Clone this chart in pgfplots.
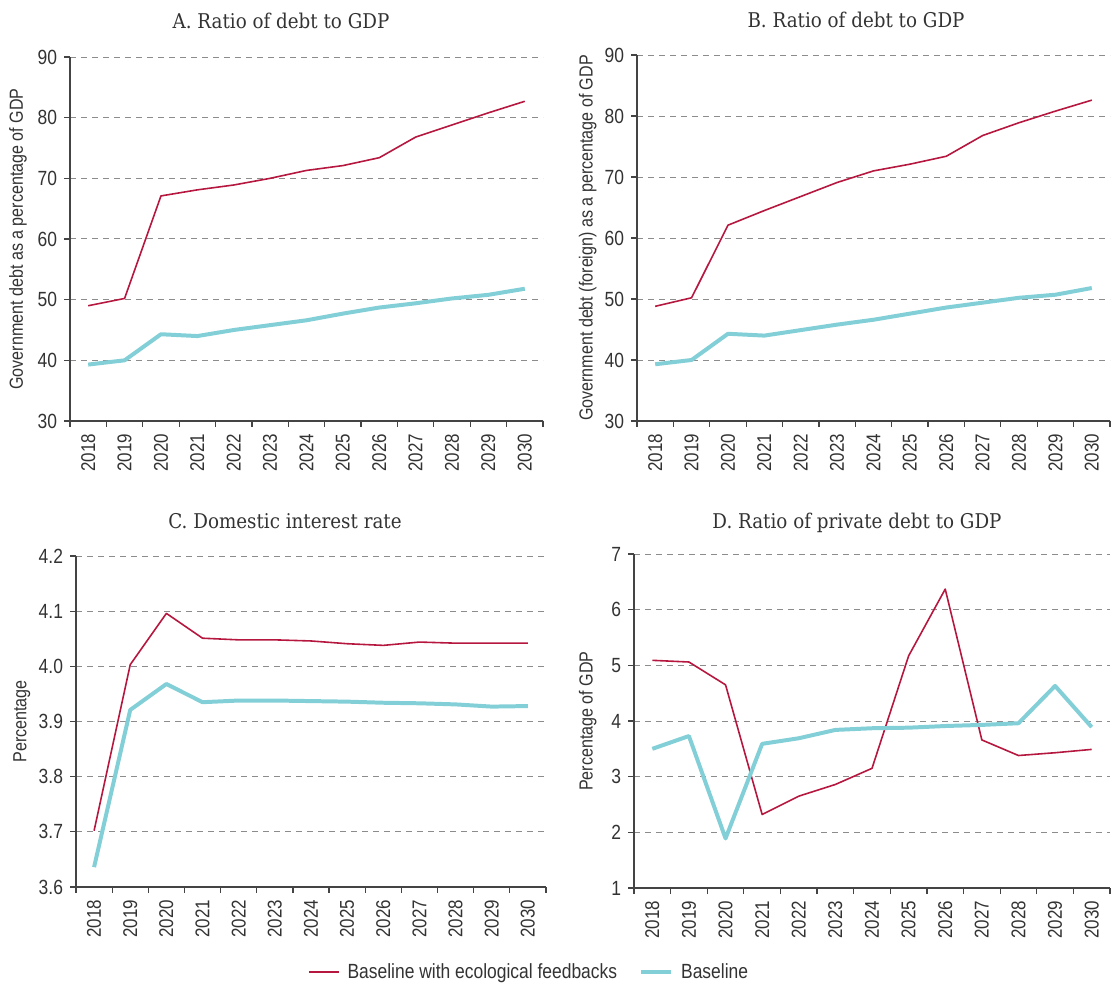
\documentclass[border=0pt]{standalone}
\usepackage{fontspec}
\setmainfont{Liberation Sans}[FakeStretch=0.85]
\newfontfamily\titlefont{DejaVu Serif}[FakeStretch=0.9]
\usepackage{pgfplots}
\pgfplotsset{compat=1.18}
\definecolor{ecored}{HTML}{B5173F}
\definecolor{basecyan}{HTML}{83CFD7}
\definecolor{axiscol}{HTML}{444444}
\definecolor{gridcol}{HTML}{8C8C8C}
\definecolor{txtcol}{HTML}{333333}
\pgfplotsset{panel/.style={
  scale only axis, anchor=north west,
  axis x line=bottom, axis y line=left,
  axis line style={-, draw=axiscol, line width=0.6pt},
  tick align=outside,
  major tick length=3bp, minor tick length=3bp,
  xmin=2017.5, xmax=2030.5,
  xtick={2018,...,2030},
  minor xtick={2017.5,2018.5,2019.5,2020.5,2021.5,2022.5,2023.5,2024.5,2025.5,2026.5,2027.5,2028.5,2029.5,2030.5},
  major x tick style={draw=none},
  minor x tick style={draw=axiscol, line width=0.6pt},
  ytick style={draw=axiscol, line width=0.6pt},
  xticklabel style={rotate=90, anchor=east, font=\fontsize{10}{12}\selectfont, text=txtcol},
  yticklabel style={font=\fontsize{10.3}{12}\selectfont, text=txtcol},
  /pgf/number format/1000 sep={},
  /pgf/number format/assume math mode=true,
  ymajorgrids,
  grid style={dash pattern=on 3bp off 2.5bp, draw=gridcol, line width=0.5pt},
  ylabel style={font=\fontsize{9.5}{11}\selectfont, text=txtcol, anchor=center},
  every axis plot/.append style={line join=round},
}}
\pgfplotstableread{
year  eco    base
2018  49.0   39.3
2019  50.2   40.0
2020  67.1   44.3
2021  68.1   44.0
2022  68.9   45.0
2023  70.0   45.8
2024  71.3   46.6
2025  72.1   47.7
2026  73.4   48.7
2027  76.8   49.4
2028  78.8   50.2
2029  80.8   50.8
2030  82.7   51.8
}\tabA
\pgfplotstableread{
year  eco    base
2018  48.8   39.3
2019  50.2   40.0
2020  62.1   44.3
2021  64.5   44.0
2022  66.8   44.9
2023  69.1   45.8
2024  71.0   46.6
2025  72.1   47.6
2026  73.4   48.6
2027  76.8   49.4
2028  78.9   50.2
2029  80.8   50.7
2030  82.6   51.8
}\tabB
\pgfplotstableread{
year  eco    base
2018  3.702  3.636
2019  4.003  3.921
2020  4.096  3.968
2021  4.051  3.935
2022  4.048  3.938
2023  4.048  3.938
2024  4.046  3.937
2025  4.041  3.936
2026  4.038  3.934
2027  4.044  3.933
2028  4.042  3.931
2029  4.042  3.927
2030  4.042  3.928
}\tabC
\pgfplotstableread{
year  eco    base
2018  5.09   3.50
2019  5.06   3.73
2020  4.65   1.89
2021  2.32   3.59
2022  2.65   3.69
2023  2.86   3.84
2024  3.15   3.87
2025  5.17   3.88
2026  6.37   3.91
2027  3.66   3.93
2028  3.38   3.96
2029  3.43   4.63
2030  3.49   3.89
}\tabD
\begin{document}
\begin{tikzpicture}
\useasboundingbox (0,0) rectangle (556.5bp,-492.5bp);
% titles
\node[anchor=base, font=\titlefont\fontsize{10.2}{12}\selectfont, text=txtcol] at (140.5bp,-14bp) {A. Ratio of debt to GDP};
\node[anchor=base, font=\titlefont\fontsize{10.2}{12}\selectfont, text=txtcol] at (428bp,-13.8bp) {B. Ratio of debt to GDP};
\node[anchor=base, font=\titlefont\fontsize{10.2}{12}\selectfont, text=txtcol] at (142.5bp,-264bp) {C. Domestic interest rate};
\node[anchor=base, font=\titlefont\fontsize{10.2}{12}\selectfont, text=txtcol] at (428.5bp,-264bp) {D. Ratio of private debt to GDP};
% Panel A
\begin{axis}[panel, at={(35bp,-28.5bp)}, width=236.5bp, height=182bp,
  ymin=30, ymax=90, ytick={30,40,50,60,70,80,90},
  ylabel={Government debt as a percentage of GDP},
  ylabel style={at={(axis description cs:-0.110,0.5)}}]
\addplot[ecored, line width=0.8pt] table[x=year, y=eco] {\tabA};
\addplot[basecyan, line width=2pt] table[x=year, y=base] {\tabA};
\end{axis}
% Panel B
\begin{axis}[panel, at={(318.5bp,-27.5bp)}, width=236.5bp, height=183bp,
  ymin=30, ymax=90, ytick={30,40,50,60,70,80,90},
  ylabel={Government debt (foreign) as a percentage of GDP},
  ylabel style={at={(axis description cs:-0.104,0.5)}}]
\addplot[ecored, line width=0.8pt] table[x=year, y=eco] {\tabB};
\addplot[basecyan, line width=2pt] table[x=year, y=base] {\tabB};
\end{axis}
% Panel C
\begin{axis}[panel, at={(38bp,-278bp)}, width=235bp, height=165.5bp,
  ymin=3.6, ymax=4.2, ytick={3.6,3.7,3.8,3.9,4.0,4.1,4.2},
  yticklabel style={/pgf/number format/.cd, fixed, fixed zerofill, precision=1},
  ylabel={Percentage},
  ylabel style={at={(axis description cs:-0.115,0.5)}},
  legend style={at={(axis description cs:0.966,-0.257)}, anchor=center, draw=none, fill=none,
    font=\fontsize{10.3}{12}\selectfont, text=txtcol, legend columns=2,
    /tikz/every even column/.append style={column sep=9bp}},
  legend image code/.code={\draw[#1] (0bp,0bp) -- (15bp,0bp); \path (17bp,0bp);}]
\addplot[ecored, line width=0.8pt] table[x=year, y=eco] {\tabC};
\addlegendentry{Baseline with ecological feedbacks}
\addplot[basecyan, line width=2pt] table[x=year, y=base] {\tabC};
\addlegendentry{Baseline}
\end{axis}
% Panel D
\begin{axis}[panel, at={(317bp,-277bp)}, width=238bp, height=167bp,
  ymin=1, ymax=7, ytick={1,2,3,4,5,6,7},
  ylabel={Percentage of GDP},
  ylabel style={at={(axis description cs:-0.097,0.5)}}]
\addplot[ecored, line width=0.8pt] table[x=year, y=eco] {\tabD};
\addplot[basecyan, line width=2pt] table[x=year, y=base] {\tabD};
\end{axis}
\end{tikzpicture}
\end{document}
